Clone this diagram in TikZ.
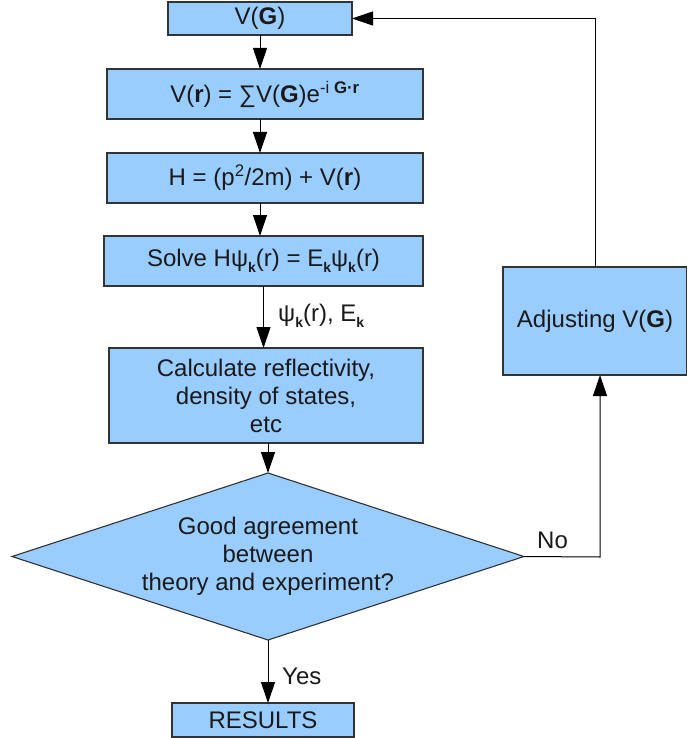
\documentclass[tikz,border=0pt]{standalone}
\usepackage{fontspec}
\setmainfont{Liberation Sans}
\usetikzlibrary{arrows.meta,shapes.geometric}
\definecolor{boxfill}{HTML}{99CCFF}
\definecolor{boxline}{HTML}{333333}
\definecolor{txt}{HTML}{1A1A1A}
% lowered bold subscript k
\newcommand{\sbk}{\raisebox{-6.5pt}{\fontsize{14}{14}\selectfont\textbf{k}}}
\begin{document}
\begin{tikzpicture}[x=1pt,y=-1pt,
  font=\fontsize{24}{28}\selectfont,
  procbox/.style={draw=boxline, fill=boxfill, line width=1.1pt, inner sep=0pt,
    outer sep=0pt, text=txt, align=center},
  flow/.style={draw=black, line width=1pt, -{Triangle[length=21pt,width=14pt]}},
  lbl/.style={text=txt, anchor=west, inner sep=0pt}]
\useasboundingbox (0,0) rectangle (687,738);

% process boxes
\node[procbox, minimum width=184pt, minimum height=33pt] (vg) at (260,18.5) {V(\textbf{G})};
\node[procbox, minimum width=316pt, minimum height=50pt] (vr) at (265,94)
  {V(\textbf{r}) = ∑V(\textbf{G})e\textsuperscript{-i \textbf{G·r}}};
\node[procbox, minimum width=316pt, minimum height=50pt] (ham) at (265,178)
  {H = (p\textsuperscript{2}/2m) + V(\textbf{r})};
\node[procbox, minimum width=319pt, minimum height=50pt] (solve) at (263.5,261)
  {Solve Hψ\sbk(r) = E\sbk ψ\sbk(r)};
\node[procbox, minimum width=314pt, minimum height=95pt] (calc) at (266,395.5)
  {Calculate reflectivity,\\density of states,\\etc};
\node[procbox, diamond, minimum width=512pt, minimum height=167pt] (dia) at (268,556.5) {};
\node[text=txt, align=center, inner sep=0pt] (diatext) at (dia.center)
  {Good agreement\\between\\theory and experiment?};
\node[procbox, minimum width=182pt, minimum height=34pt] (res) at (263,720) {RESULTS};
\node[procbox, minimum width=184pt, minimum height=108pt] (adj) at (595,321) {Adjusting V(\textbf{G})};

% main chain
\draw[flow] (vg.south) -- (vg.south |- vr.north);
\draw[flow] (vr.south -| vg.south) -- (ham.north -| vg.south);
\draw[flow] (ham.south -| vg.south) -- (solve.north -| vg.south);
\draw[flow] (solve.south) -- (solve.south |- calc.north);
\draw[flow] (calc.south -| dia.north) -- (dia.north);
\draw[flow] (dia.south) -- (dia.south |- res.north);

% feedback loop
\coordinate (nocorner) at (600,557);
\coordinate (topcorner) at (adj.north |- vg.east);
\draw[flow] (dia.east) -- (nocorner) -- (nocorner |- adj.south);
\draw[flow] (adj.north) -- (topcorner) -- (vg.east);

% labels
\node[lbl] (psilbl) at (278,316) {ψ\sbk(r), E\sbk};
\node[lbl] (yeslbl) at (282,676) {Yes};
\node[lbl] (nolbl) at (537,540) {No};
\end{tikzpicture}
\end{document}
